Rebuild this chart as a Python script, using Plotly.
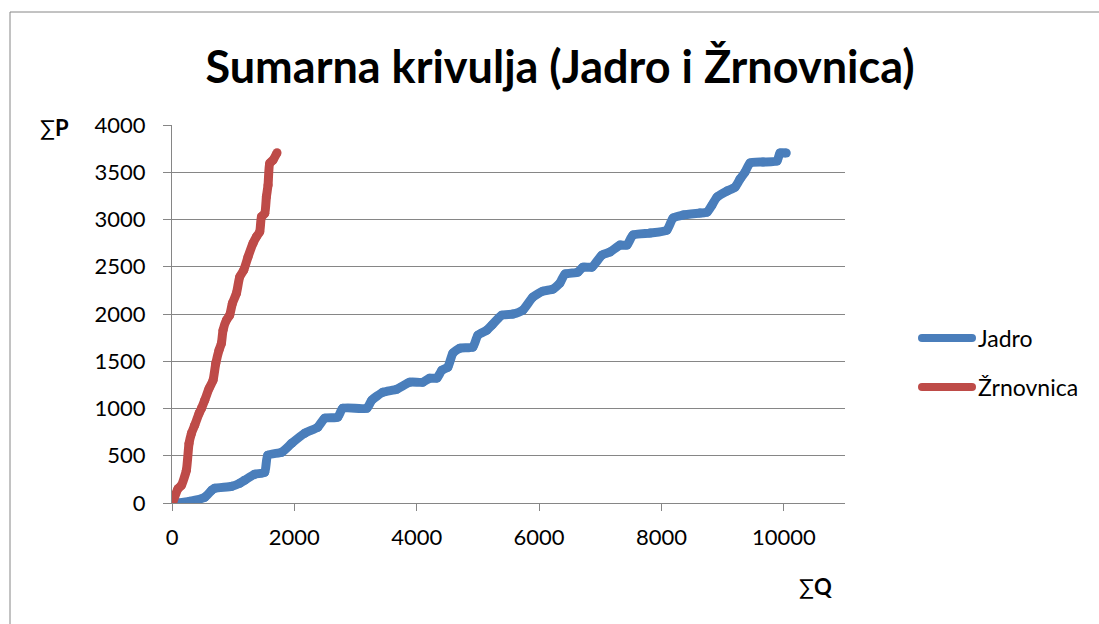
import plotly.graph_objects as go

# Cumulative discharge (ΣQ) vs cumulative precipitation (ΣP)
jadro_q = [93, 289, 535, 649, 698, 976, 1107, 1188, 1352, 1515, 1564, 1793, 1957, 2169, 2382,
           2496, 2709, 2791, 3185, 3266, 3446, 3674, 3887, 4099, 4214, 4329, 4410, 4508, 4590,
           4704, 4917, 4999, 5146, 5228, 5391, 5571, 5735, 5898, 6062, 6226, 6340, 6422, 6634,
           6716, 6863, 7027, 7158, 7321, 7436, 7534, 7812, 8090, 8188, 8352, 8630, 8745, 8826,
           8908, 9072, 9203, 9284, 9366, 9448, 9660, 9889, 9938, 10040]
jadro_p = [0, 18, 60, 135, 156, 177, 209, 241, 304, 325, 505, 537, 632, 738, 802, 897, 908, 1003,
           1003, 1088, 1172, 1204, 1278, 1278, 1321, 1321, 1405, 1437, 1585, 1638, 1649, 1776,
           1829, 1882, 1988, 1999, 2041, 2178, 2242, 2263, 2327, 2422, 2443, 2496, 2496, 2623,
           2655, 2729, 2729, 2835, 2856, 2888, 3015, 3047, 3068, 3078, 3152, 3237, 3301, 3343,
           3428, 3502, 3598, 3608, 3619, 3704, 3704]

zrn_q = [10, 98, 154, 235, 278, 317, 371, 442, 481, 535, 605, 671, 715, 768, 807, 834, 889,
         943, 987, 1053, 1107, 1172, 1243, 1324, 1380, 1434, 1462, 1516, 1543, 1570, 1597,
         1651, 1717]
zrn_p = [5, 152, 187, 346, 629, 735, 823, 947, 1000, 1088, 1211, 1299, 1476, 1617, 1688, 1829,
         1935, 1988, 2112, 2218, 2393, 2464, 2605, 2747, 2817, 2870, 3029, 3065, 3241, 3364,
         3594, 3629, 3706]

series_names = ["Jadro", "Žrnovnica"]
series_colors = ["#4a7ebb", "#be4b48"]

x_ticks = [0, 2000, 4000, 6000, 8000, 10000]
x_labels = ["0", "2000", "4000", "6000", "8000", "10000"]
y_ticks = [0, 500, 1000, 1500, 2000, 2500, 3000, 3500, 4000]

W, H = 1099, 624
L, R, T, B = 172, 254, 125, 121
PW, PH = W - L - R, H - T - B


def px_x(px):
    return (px - L) / PW


def px_y(py):
    return (H - B - py) / PH


FONT = "Lato"
GREY = "#868686"

fig = go.Figure()
for q, p, name, col in [(jadro_q, jadro_p, series_names[0], series_colors[0]),
                        (zrn_q, zrn_p, series_names[1], series_colors[1])]:
    fig.add_trace(go.Scatter(
        x=q, y=p, name=name, mode="lines+markers",
        line=dict(color=col, width=9, shape="spline", smoothing=0.5),
        marker=dict(color=col, size=9),
        showlegend=False,
    ))

shapes = [
    # chart frame
    dict(type="rect", xref="paper", yref="paper",
         x0=px_x(10), x1=px_x(W + 10), y0=px_y(H + 10), y1=px_y(12),
         line=dict(color=GREY, width=1), fillcolor="rgba(0,0,0,0)", layer="below"),
]
annotations = []

# legend entries
leg_rows = [338, 387]
for name, col, yy in zip(series_names, series_colors, leg_rows):
    shapes.append(dict(type="line", xref="paper", yref="paper",
                       x0=px_x(922), x1=px_x(972), y0=px_y(yy), y1=px_y(yy),
                       line=dict(color=col, width=8)))
    for cx in (922, 972):
        shapes.append(dict(type="circle", xref="paper", yref="paper",
                           xsizemode="pixel", ysizemode="pixel",
                           xanchor=px_x(cx), yanchor=px_y(yy),
                           x0=-4, x1=4, y0=-4, y1=4,
                           line=dict(width=0), fillcolor=col))
    annotations.append(dict(xref="paper", yref="paper", x=px_x(976), y=px_y(yy),
                            xanchor="left", yanchor="middle", showarrow=False,
                            text=name, font=dict(family=FONT, size=23, color="black")))

# axis titles
annotations.append(dict(xref="paper", yref="paper", x=px_x(54), y=px_y(128),
                        xanchor="center", yanchor="middle", showarrow=False,
                        text="∑<b>P</b>", font=dict(family=FONT, size=22, color="black")))
annotations.append(dict(xref="paper", yref="paper", x=px_x(815), y=px_y(586),
                        xanchor="center", yanchor="middle", showarrow=False,
                        text="∑<b>Q</b>", font=dict(family=FONT, size=22, color="black")))

fig.update_layout(
    width=W, height=H, autosize=False,
    margin=dict(l=L, r=R, t=T, b=B, pad=0),
    paper_bgcolor="white", plot_bgcolor="white",
    font=dict(family=FONT, size=22, color="black"),
    title=dict(text="<b>Sumarna krivulja (Jadro i Žrnovnica)</b>",
               x=px_x(560), xref="paper", xanchor="center",
               y=1 - 67 / H, yref="container", yanchor="middle",
               font=dict(family=FONT, size=45, color="black")),
    xaxis=dict(range=[0, 11000], tickvals=x_ticks, ticktext=x_labels,
               showgrid=False, zeroline=False,
               showline=True, linecolor=GREY, linewidth=1.3,
               ticks="outside", ticklen=7, tickcolor=GREY, tickwidth=1.3,
               ticklabelstandoff=7, tickfont=dict(family=FONT, size=22)),
    yaxis=dict(range=[0, 4000], tickvals=y_ticks, showgrid=True, gridcolor=GREY,
               gridwidth=1.3, zeroline=False,
               showline=True, linecolor=GREY, linewidth=1.3,
               ticks="outside", ticklen=8, tickcolor=GREY, tickwidth=1.3,
               ticklabelstandoff=13, tickfont=dict(family=FONT, size=22)),
    shapes=shapes, annotations=annotations,
)

fig.write_html("out.html")
